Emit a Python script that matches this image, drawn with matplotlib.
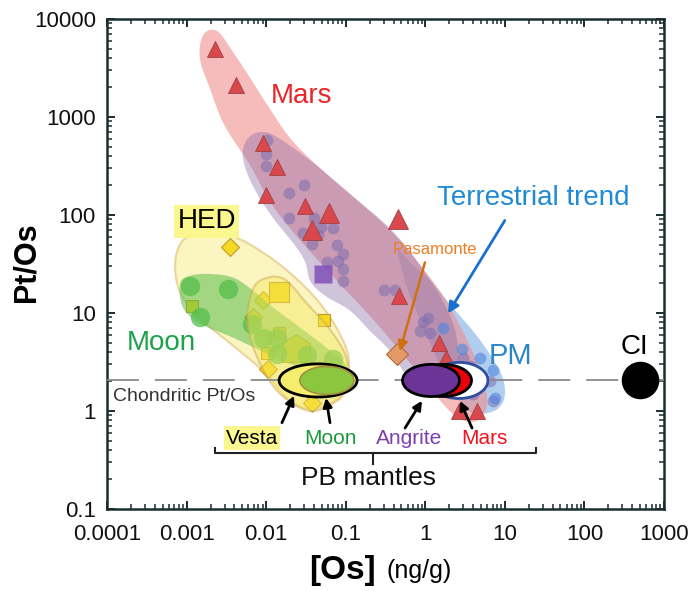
import numpy as np
import matplotlib
matplotlib.use('Agg')
import matplotlib.pyplot as plt
from matplotlib.ticker import FixedLocator, LogLocator, NullFormatter

plt.rcParams['font.family'] = ['Liberation Sans', 'DejaVu Sans']
plt.rcParams['lines.scale_dashes'] = False

# ======= DATA ==============================
x_ticks = [1e-4, 1e-3, 1e-2, 1e-1, 1, 10, 100, 1000]
x_tick_labels = ['0.0001', '0.001', '0.01', '0.1', '1', '10', '100', '1000']
y_ticks = [0.1, 1, 10, 100, 1000, 10000]
y_tick_labels = ['0.1', '1', '10', '100', '1000', '10000']

chondritic_ptos = 2.05

# Mars meteorites (triangles)
mars_os = [0.0023, 0.0042, 0.0091, 0.0137, 0.0100, 0.031, 0.47, 1.5, 1.8, 2.65, 4.5]
mars_ptos = [5000, 2100, 540, 310, 160, 125, 15, 5.0, 3.5, 1.0, 1.0]
mars_big_os = [0.062, 0.038, 0.45]
mars_big_ptos = [104, 70, 92]

# terrestrial samples (circles)
terr_os = [0.0103, 0.0100, 0.0100, 0.0194, 0.030, 0.0194, 0.040, 0.049, 0.069, 0.029,
           0.045, 0.038, 0.078, 0.092, 0.080, 0.092, 0.058, 0.092, 0.30, 0.42,
           0.93, 1.08, 0.86, 1.15, 3.0, 3.65, 4.5, 4.0, 6.5, 7.1]
terr_ptos = [580, 420, 315, 166, 200, 94, 94, 75, 73, 65,
             62, 51, 50, 40, 34, 28, 33, 21, 17, 17.3,
             8.0, 8.8, 6.6, 6.2, 3.5, 2.9, 2.2, 1.5, 2.0, 1.27]
pm_os = [1.67, 2.9, 4.9, 7.1, 7.5]
pm_ptos = [7.1, 4.3, 3.5, 2.6, 1.36]

# HED meteorites
hed_diamond_os = [0.0035, 0.0091, 0.0068, 0.0105, 0.0377]
hed_diamond_ptos = [47, 13.7, 9.0, 2.7, 1.21]
hed_square_os = [0.00117, 0.0533, 0.0145, 0.0103]
hed_square_ptos = [11.9, 8.4, 6.2, 3.9]
hed_big_os = [0.0145]
hed_big_ptos = [16.2]
hed_house_os = [0.0237]
hed_house_ptos = [4.4]

# lunar samples
moon_os = [0.0011, 0.0033, 0.00148, 0.0066, 0.0091, 0.0137, 0.0137, 0.0326, 0.069]
moon_ptos = [19, 17.7, 9.0, 7.8, 5.6, 5.6, 3.8, 3.7, 3.4]

angrite_os, angrite_ptos = [0.052], [25]
pasamonte_os, pasamonte_ptos = [0.44], [3.8]
ci_os, ci_ptos = [500], [2.05]

# PB mantle estimates (ellipse centres, on chondritic Pt/Os)
pb_names = ['PM', 'Mars', 'Angrite', 'Vesta', 'Moon']
pb_os = [2.65, 1.67, 1.18, 0.045, 0.058]

# field outlines (Os, Pt/Os)
mars_field_os = [0.0015, 0.0018, 0.0025, 0.0037, 0.0063, 0.011, 0.021, 0.055, 0.15, 0.39,
                 0.86, 1.77, 3.15, 4.9, 6.0, 4.9, 3.15, 1.9, 0.99, 0.48,
                 0.20, 0.073, 0.027, 0.012, 0.0063, 0.0030, 0.0020, 0.0015]
mars_field_ptos = [5800, 7500, 7400, 4800, 2500, 1230, 580, 270, 135, 66,
                   31, 14, 5.9, 2.6, 1.27, 0.83, 0.79, 1.05, 2.04, 4.1,
                   9.4, 22.5, 55, 125, 320, 820, 1880, 3640]
terr_field_os = [0.0051, 0.0063, 0.0097, 0.0173, 0.0475, 0.131, 0.36, 0.81, 1.53, 2.37,
                 2.58, 1.93, 1.08, 0.64, 0.36, 0.20, 0.113, 0.055, 0.036, 0.031,
                 0.023, 0.0129, 0.0079, 0.0056]
terr_field_ptos = [458, 637, 700, 553, 300, 148, 73, 33, 15, 6.6,
                   2.9, 1.69, 1.53, 2.04, 4.1, 6.6, 10.6, 15, 21, 33,
                   49, 88, 159, 286]
pm_field_os = [0.45, 0.64, 1.21, 2.17, 4.2, 6.9, 9.5, 9.8, 7.3, 3.87, 2.37, 1.53, 0.99, 0.64, 0.52]
pm_field_ptos = [45, 33, 20.5, 11.6, 6.2, 3.5, 2.13, 1.33, 1.0, 0.96, 1.43, 2.9, 6.6, 15, 26]
hed_field_os = [0.0009, 0.00148, 0.00384, 0.0097, 0.0231, 0.0475, 0.080, 0.107, 0.104,
                0.073, 0.0356, 0.0188, 0.0097, 0.00384, 0.00148, 0.00083, 0.00072]
hed_field_ptos = [55, 63, 60, 40, 23, 12.5, 6.6, 3.7, 2.04, 1.27, 1.05, 1.33, 2.46, 4.65, 8.8, 16.2, 33]
moon_field_os = [0.00083, 0.0011, 0.00197, 0.00384, 0.0068, 0.0122, 0.0267, 0.058,
                 0.092, 0.104, 0.069, 0.0326, 0.0103, 0.00384, 0.00148, 0.0009]
moon_field_ptos = [20, 24, 25, 23, 17, 11.4, 7.1, 4.4, 3.26, 2.4, 2.19, 2.58, 3.85, 5.6, 7.8, 11.4]
vesta_field_os = [0.0084, 0.0163, 0.0326, 0.069, 0.104, 0.098, 0.078, 0.0356, 0.0149, 0.0084, 0.0059, 0.0063]
vesta_field_ptos = [21.4, 22.5, 12.5, 6.2, 3.26, 1.73, 1.27, 1.0, 1.5, 3.04, 7.1, 14.4]
# ===========================================


def smooth_outline(xs, ys, n=24):
    # closed Catmull-Rom spline through the outline points, in log space
    p = np.column_stack([np.log10(xs), np.log10(ys)])
    m = len(p)
    t = np.linspace(0, 1, n, endpoint=False)[:, None]
    segs = []
    for i in range(m):
        p0, p1, p2, p3 = p[i - 1], p[i], p[(i + 1) % m], p[(i + 2) % m]
        segs.append(0.5 * (2 * p1 + (-p0 + p2) * t + (2 * p0 - 5 * p1 + 4 * p2 - p3) * t ** 2
                           + (-p0 + 3 * p1 - 3 * p2 + p3) * t ** 3))
    pts = np.vstack(segs)
    return 10 ** pts[:, 0], 10 ** pts[:, 1]


def log_ellipse(cx, cy, half_w, half_h, n=120):
    th = np.linspace(0, 2 * np.pi, n)
    return 10 ** (np.log10(cx) + half_w * np.cos(th)), 10 ** (np.log10(cy) + half_h * np.sin(th))


fig = plt.figure(figsize=(6.91, 5.91), dpi=100)
ax = fig.add_axes([107 / 691, 1 - 509 / 591, 557 / 691, 490 / 591])
ax.set_xscale('log')
ax.set_yscale('log')
ax.set_xlim(1e-4, 1e3)
ax.set_ylim(0.1, 1e4)

# fields
ax.fill(*smooth_outline(pm_field_os, pm_field_ptos), color='#7eaee6', alpha=0.6, lw=0, zorder=1)
ax.fill(*smooth_outline(mars_field_os, mars_field_ptos), color='#f08a8a', alpha=0.58, lw=0, zorder=1.1)
ax.fill(*smooth_outline(terr_field_os, terr_field_ptos), color='#8a6ca6', alpha=0.4, lw=0, zorder=1.2)
ax.fill(*smooth_outline(hed_field_os, hed_field_ptos), facecolor='#fbf4b8', edgecolor='#e8cf90',
        alpha=0.85, lw=1.5, zorder=1.3)

# HED points (under the lunar field)
ax.plot(hed_diamond_os, hed_diamond_ptos, 'D', ms=9, mfc='#f5d820', mec='#c09a30', mew=0.8, ls='none', zorder=2)
ax.plot(hed_square_os, hed_square_ptos, 's', ms=9, mfc='#f5d820', mec='#c09a30', mew=0.8, ls='none', zorder=2)
ax.plot(hed_big_os, hed_big_ptos, 's', ms=14, mfc='#f5d820', mec='#c09a30', mew=0.8, ls='none', zorder=2)
house = [(-1, -1), (1, -1), (1, 0.35), (0, 1), (-1, 0.35), (-1, -1)]
ax.plot(hed_house_os, hed_house_ptos, marker=house, ms=20, mfc='#f5d820', mec='#c09a30', mew=0.8,
        ls='none', zorder=2)

# lunar points and field
ax.plot(moon_os, moon_ptos, 'o', ms=14, mfc='#4cbf4c', mec='none', alpha=0.75, ls='none', zorder=2.1)
ax.fill(*smooth_outline(moon_field_os, moon_field_ptos), color='#5cbd4c', alpha=0.55, lw=0, zorder=2.2)
ax.fill(*smooth_outline(vesta_field_os, vesta_field_ptos), facecolor='#f5e65a', edgecolor='#c9a24a',
        alpha=0.45, lw=1.5, zorder=2.3)

# terrestrial and Martian points
ax.plot(terr_os, terr_ptos, 'o', ms=8.5, mfc='#7e6eb0', mec='none', alpha=0.55, ls='none', zorder=3)
ax.plot(pm_os, pm_ptos, 'o', ms=8.5, mfc='#4f86e0', mec='none', alpha=0.6, ls='none', zorder=3)
ax.plot(mars_os, mars_ptos, '^', ms=11, mfc='#d9484c', mec='#a04040', mew=0.6, ls='none', zorder=3.1)
ax.plot(mars_big_os, mars_big_ptos, '^', ms=15, mfc='#d9484c', mec='#a04040', mew=0.6, ls='none', zorder=3.1)
ax.plot(angrite_os, angrite_ptos, 's', ms=13, mfc='#8050b8', mec='none', alpha=0.85, ls='none', zorder=3.1)
ax.plot(pasamonte_os, pasamonte_ptos, 'D', ms=11, mfc='#e39a68', mec='#b06a3a', mew=0.8, ls='none', zorder=3.2)

# chondritic reference line
ax.axhline(chondritic_ptos, color='#8a8a8a', lw=1.3, dashes=(23, 11.5), zorder=4)
ax.text(1.19e-4, 1.40, 'Chondritic Pt/Os', fontsize=14, color='#333333', va='center', ha='left', zorder=6)

# PB mantle ellipses
pb_style = {
    'PM': dict(fc='white', ec='#2e4fa0', hw=0.364, hh=0.184),
    'Mars': dict(fc='#e8000b', ec='black', hw=0.358, hh=0.164),
    'Angrite': dict(fc='#6a3596', ec='black', hw=0.358, hh=0.164),
    'Vesta': dict(fc='#f4ee6c', ec='black', hw=0.49, hh=0.169),
    'Moon': dict(fc='#8cc63f', ec='#a09040', hw=0.339, hh=0.143),
}
for i, (name, os_) in enumerate(zip(pb_names, pb_os)):
    st = pb_style[name]
    ex, ey = log_ellipse(os_, chondritic_ptos, st['hw'], st['hh'])
    lw = 1.2 if name == 'Moon' else 2
    ax.fill(ex, ey, facecolor=st['fc'], edgecolor=st['ec'], lw=lw, zorder=5 + i * 0.1)

ax.plot(ci_os, ci_ptos, 'o', ms=26, color='black', ls='none', zorder=6, clip_on=False)

# labels
ax.text(0.028, 1630, 'Mars', fontsize=20, color='#e8262b', ha='center', va='center', zorder=7)
ax.text(22.6, 148, 'Terrestrial trend', fontsize=20, color='#1f8ad6', ha='center', va='center', zorder=7)
ax.text(0.0018, 86, 'HED', fontsize=20, color='black', ha='center', va='center', zorder=7,
        bbox=dict(boxstyle='square,pad=0.12', fc='#fbf78f', ec='none'))
ax.text(0.00048, 5.0, 'Moon', fontsize=20, color='#1aa34a', ha='center', va='center', zorder=7)
ax.text(1.32, 44.5, 'Pasamonte', fontsize=12, color='#f07d22', ha='center', va='center', zorder=7)
ax.text(11.6, 3.6, 'PM', fontsize=21, color='#2b86c9', ha='center', va='center', zorder=7)
ax.text(420, 4.5, 'CI', fontsize=20, color='black', ha='center', va='center', zorder=7)

ax.annotate('', xy=(0.48, 4.1), xytext=(0.99, 32.8),
            arrowprops=dict(arrowstyle='-|>', color='#d07010', lw=1.8, mutation_scale=14, shrinkA=0, shrinkB=0),
            zorder=7)
ax.annotate('', xy=(1.93, 9.9), xytext=(10.0, 88),
            arrowprops=dict(arrowstyle='-|>', color='#1a70d0', lw=2, mutation_scale=16, shrinkA=0, shrinkB=0),
            zorder=7)

label_y = 0.53
bottom_labels = [('Vesta', 0.0066, 'black'), ('Moon', 0.0635, '#1a9a3a'),
                 ('Angrite', 0.62, '#7d3fae'), ('Mars', 5.5, '#f0141e')]
for text, xpos, col in bottom_labels:
    kw = {}
    if text == 'Vesta':
        kw['bbox'] = dict(boxstyle='square,pad=0.1', fc='#fbf78f', ec='none')
    ax.text(xpos, label_y, text, fontsize=15, color=col, ha='center', va='center', zorder=7, **kw)

arrows = [((0.0158, 0.76), (0.0224, 1.43)), ((0.0635, 0.76), (0.0565, 1.36)),
          ((0.556, 0.67), (0.91, 1.27)), ((3.87, 0.67), (2.73, 1.27))]
for start, end in arrows:
    ax.annotate('', xy=end, xytext=start,
                arrowprops=dict(arrowstyle='-|>', color='black', lw=2, mutation_scale=13, shrinkA=0, shrinkB=0),
                zorder=7)

# PB mantles bracket
ax.plot([0.00228, 0.00228, 24.6, 24.6], [0.42, 0.374, 0.374, 0.42], color='#222222', lw=1.5, zorder=7)
ax.plot([0.22, 0.22], [0.374, 0.29], color='#222222', lw=1.5, zorder=7)
ax.text(0.196, 0.207, 'PB mantles', fontsize=19, color='#111111', ha='center', va='center', zorder=7)

# axes styling
ax.xaxis.set_major_locator(FixedLocator(x_ticks))
ax.set_xticklabels(x_tick_labels)
ax.yaxis.set_major_locator(FixedLocator(y_ticks))
ax.set_yticklabels(y_tick_labels)
for axis in (ax.xaxis, ax.yaxis):
    axis.set_minor_locator(LogLocator(base=10, subs=np.arange(2, 10), numticks=100))
    axis.set_minor_formatter(NullFormatter())
ax.tick_params(which='both', direction='in', top=True, right=True, colors='#1a2e2e', labelcolor='#111111')
ax.tick_params(which='major', length=6, width=1.4, labelsize=16)
ax.tick_params(axis='x', which='major', pad=11)
ax.tick_params(axis='y', which='major', pad=8)
ax.tick_params(which='minor', length=3.5, width=1.1)
for sp in ax.spines.values():
    sp.set_color('#1a2e2e')
    sp.set_linewidth(1.8)

fig.text(376 / 691, 1 - 571 / 591, '[Os]', fontsize=24, fontweight='bold', ha='right', va='center')
fig.text(386 / 691, 1 - 571 / 591, '(ng/g)', fontsize=18, ha='left', va='center')
fig.text(27 / 691, 1 - 262 / 591, 'Pt/Os', fontsize=22, fontweight='bold', rotation=90, ha='center', va='center')

fig.savefig('out.png', dpi=100)
